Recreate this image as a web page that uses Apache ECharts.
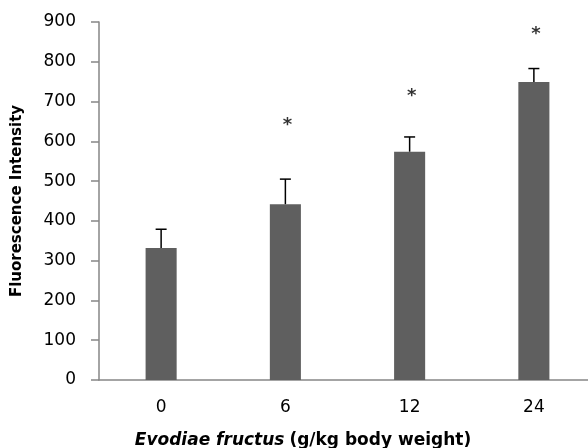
<!DOCTYPE html>
<html><head><meta charset="utf-8">
<script src="https://cdn.jsdelivr.net/npm/echarts@6/dist/echarts.min.js"></script>
<style>html,body{margin:0;padding:0;background:#fff}#c{width:588px;height:448px}</style>
</head><body><div id="c"></div>
<script>
const categories = ['0', '6', '12', '24'];
const values = [332, 442, 574, 749];
const errors = [47, 63, 37, 34];
const starValues = [null, 643, 716, 872];
const yTicks = [0, 100, 200, 300, 400, 500, 600, 700, 800, 900];

const chart = echarts.init(document.getElementById('c'));
const FONT = 'DejaVu Sans';
chart.setOption({
  animation: false,
  grid: { left: 99, right: -8, top: 22, bottom: 68, containLabel: false, outerBoundsMode: 'none' },
  title: {
    left: 298, top: 427, textAlign: 'center',
    text: '{i|Evodiae fructus} {b|(g/kg body weight)}',
    textStyle: {
      rich: {
        i: { fontFamily: FONT, fontSize: 17, fontWeight: 'bold', fontStyle: 'italic', color: '#000' },
        b: { fontFamily: FONT, fontSize: 17, fontWeight: 'bold', color: '#000' }
      }
    }
  },
  xAxis: {
    type: 'category', data: categories,
    axisLine: { lineStyle: { color: '#868686', width: 1.5 } },
    axisTick: { show: false },
    axisLabel: { color: '#000', fontFamily: FONT, fontSize: 17, margin: 19 }
  },
  yAxis: {
    type: 'value', min: 0, max: 900, interval: 100,
    name: 'Fluorescence Intensity', nameLocation: 'middle', nameGap: 74,
    nameTextStyle: { fontFamily: FONT, fontSize: 15, fontWeight: 'bold', color: '#000' },
    splitLine: { show: false },
    axisLine: { show: true, lineStyle: { color: '#868686', width: 1.5 } },
    axisTick: { show: true, length: 8, lineStyle: { color: '#868686', width: 1.5 } },
    axisLabel: { color: '#000', fontFamily: FONT, fontSize: 17, margin: 23,
      formatter: v => yTicks.includes(v) ? String(v) : '' }
  },
  series: [
    {
      type: 'bar', data: values, barWidth: '25%',
      itemStyle: { color: '#5f5f5f' }
    },
    {
      type: 'custom',
      data: values.map((v, i) => [i, v, v + errors[i]]),
      renderItem: function (params, api) {
        const lo = api.coord([api.value(0), api.value(1)]);
        const hi = api.coord([api.value(0), api.value(2)]);
        const w = 5.5;
        return {
          type: 'group',
          children: [
            { type: 'line', shape: { x1: lo[0], y1: lo[1], x2: hi[0], y2: hi[1] }, style: { stroke: '#000', lineWidth: 1.5 } },
            { type: 'line', shape: { x1: hi[0] - w, y1: hi[1], x2: hi[0] + w, y2: hi[1] }, style: { stroke: '#000', lineWidth: 1.5 } }
          ]
        };
      },
      z: 5
    },
    {
      type: 'scatter',
      data: starValues.map((v, i) => v == null ? null : [i, v]),
      symbolSize: 0,
      label: { show: true, position: 'inside', formatter: '*', color: '#000', fontFamily: FONT, fontWeight: 'bold', fontSize: 18, offset: [2, 1] }
    }
  ]
});
</script></body></html>
